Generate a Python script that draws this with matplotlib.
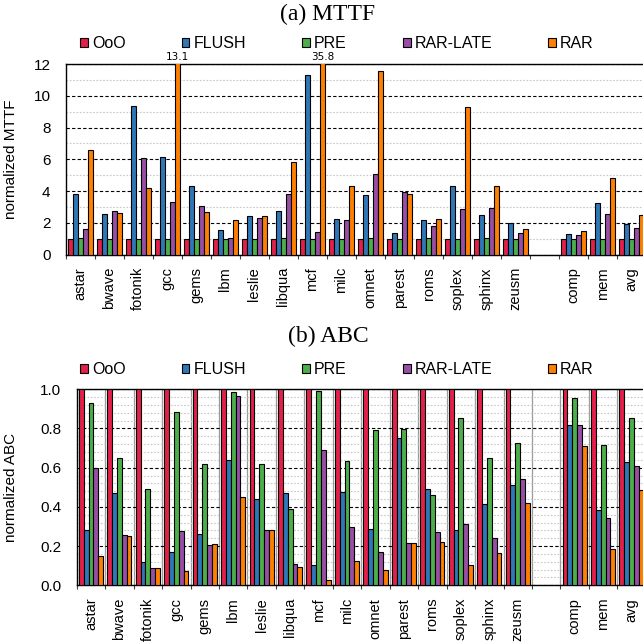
import numpy as np
import matplotlib
matplotlib.use("Agg")
import matplotlib.pyplot as plt
from matplotlib.ticker import MultipleLocator, FixedLocator

plt.rcParams['font.family'] = ['Liberation Sans', 'DejaVu Sans']

#----------------- datos -----------------
bench = ["astar", "bwave", "fotonik", "gcc", "gems", "lbm", "leslie", "libqua",
         "mcf", "milc", "omnet", "parest", "roms", "soplex", "sphinx", "zeusm"]
summary = ["comp", "mem", "avg"]
series = ["OoO", "FLUSH", "PRE", "RAR-LATE", "RAR"]
colors = ["#E2204A", "#2E78B8", "#4DAF4A", "#984EA3", "#FF8000"]

mttf_ooo = [1.0] * 19
mttf_flush = [3.8, 2.58, 9.39, 6.13, 4.3, 1.57, 2.43, 2.72, 11.32, 2.22, 3.75,
              1.34, 2.18, 4.3, 2.47, 1.99, 1.29, 3.23, 1.93]
mttf_pre = [1.02, 1.0, 1.0, 1.0, 1.0, 1.0, 1.0, 1.05, 1.0, 1.0, 1.05,
            1.0, 1.05, 1.0, 1.02, 1.0, 1.0, 1.0, 1.0]
mttf_rarlate = [1.6, 2.77, 6.07, 3.3, 3.06, 1.03, 2.32, 3.84, 1.44, 2.16, 5.06,
                3.96, 1.8, 2.89, 2.95, 1.36, 1.23, 2.57, 1.68]
mttf_rar = [6.59, 2.64, 4.21, 13.1, 2.66, 2.2, 2.43, 5.84, 35.8, 4.34, 11.56,
            3.82, 2.26, 9.29, 4.34, 1.63, 1.48, 4.81, 2.47]

abc_ooo = [1.0] * 19
abc_flush = [0.284, 0.469, 0.121, 0.172, 0.262, 0.638, 0.44, 0.469, 0.102, 0.474,
             0.286, 0.753, 0.49, 0.281, 0.413, 0.512, 0.816, 0.384, 0.631]
abc_pre = [0.93, 0.65, 0.491, 0.884, 0.617, 0.985, 0.619, 0.388, 0.991, 0.636,
           0.791, 0.799, 0.459, 0.852, 0.648, 0.724, 0.954, 0.716, 0.852]
abc_rarlate = [0.599, 0.255, 0.087, 0.276, 0.204, 0.964, 0.284, 0.111, 0.689, 0.296,
               0.168, 0.214, 0.27, 0.311, 0.24, 0.543, 0.816, 0.342, 0.611]
abc_rar = [0.151, 0.252, 0.09, 0.071, 0.211, 0.452, 0.281, 0.092, 0.026, 0.126,
           0.077, 0.214, 0.221, 0.102, 0.167, 0.42, 0.713, 0.184, 0.485]

labels = bench + summary
pos = np.r_[np.arange(len(bench)), np.arange(len(summary)) + len(bench) + 1]
ncat = len(bench) + 1 + len(summary)
bw = 0.17


def dibujar(ax, data, ymax, major, minor, ylabel, vsep):
    handles = []
    for k, vals in enumerate(data):
        b = ax.bar(pos + (k - 2) * bw, vals, bw, color=colors[k],
                   edgecolor='black', linewidth=0.8, label=series[k], zorder=3)
        handles.append(b)
        # valores fuera de escala
        for x, v in zip(pos + (k - 2) * bw, vals):
            if v > ymax:
                ax.annotate("%.1f" % v, (x, ymax), xytext=(0, 1.5),
                            textcoords='offset points', ha='center', va='bottom',
                            fontsize=7.5, family='DejaVu Sans', annotation_clip=False)
    ax.set_xlim(-0.5, ncat - 0.5)
    ax.set_ylim(0, ymax)
    ax.yaxis.set_major_locator(MultipleLocator(major))
    ax.yaxis.set_minor_locator(MultipleLocator(minor))
    ax.grid(axis='y', which='major', color='black', linestyle=(0, (3, 2)), lw=0.8, zorder=0)
    ax.grid(axis='y', which='minor', color='#c8c8c8', linestyle=(0, (1.5, 1.5)), lw=0.8, zorder=0)
    ax.set_xticks(pos)
    ax.set_xticklabels(labels, rotation=90, fontsize=10.5)
    ax.xaxis.set_minor_locator(FixedLocator(np.arange(ncat + 1) - 0.5))
    ax.tick_params(axis='x', which='major', length=0, pad=9)
    ax.tick_params(axis='x', which='minor', length=3, width=0.8, direction='out',
                   color='#444444')
    ax.tick_params(axis='y', which='both', length=0, pad=11, labelsize=11)
    if vsep:
        ax.grid(axis='x', which='minor', color='#9a9a9a', lw=0.9, zorder=1)
    for s in ax.spines.values():
        s.set_linewidth(1.0)
    ax.set_ylabel(ylabel, fontsize=11)
    return handles


fig = plt.figure(figsize=(6.43, 6.44), dpi=100)

ax1 = fig.add_axes([0.1022, 0.6048, 0.903, 0.2955])
h = dibujar(ax1, [mttf_ooo, mttf_flush, mttf_pre, mttf_rarlate, mttf_rar],
            12, 2, 1, "normalized MTTF", False)
ax1.yaxis.set_label_coords(-0.082, 0.5)

ax2 = fig.add_axes([0.1193, 0.0912, 0.885, 0.3043])
dibujar(ax2, [abc_ooo, abc_flush, abc_pre, abc_rarlate, abc_rar],
        1.0, 0.2, 0.04, "normalized ABC", True)
ax2.yaxis.set_major_formatter(matplotlib.ticker.FormatStrFormatter('%.1f'))
ax2.yaxis.set_label_coords(-0.103, 0.5)

fig.text(0.51, 1 - 14 / 644, "(a) MTTF", ha='center', va='center',
         fontsize=17, family='Liberation Serif')
fig.text(0.51, 1 - 336 / 644, "(b) ABC", ha='center', va='center',
         fontsize=17, family='Liberation Serif')

for ytop in (44, 370):
    fig.legend(handles=h, labels=series, ncol=5, frameon=False, fontsize=11.5,
               loc='center left', bbox_to_anchor=(80 / 643, 1 - ytop / 644),
               borderaxespad=0, borderpad=0, handlelength=0.5, handleheight=0.5,
               handletextpad=0.25, columnspacing=3.5)

fig.savefig("out.png", dpi=100)
